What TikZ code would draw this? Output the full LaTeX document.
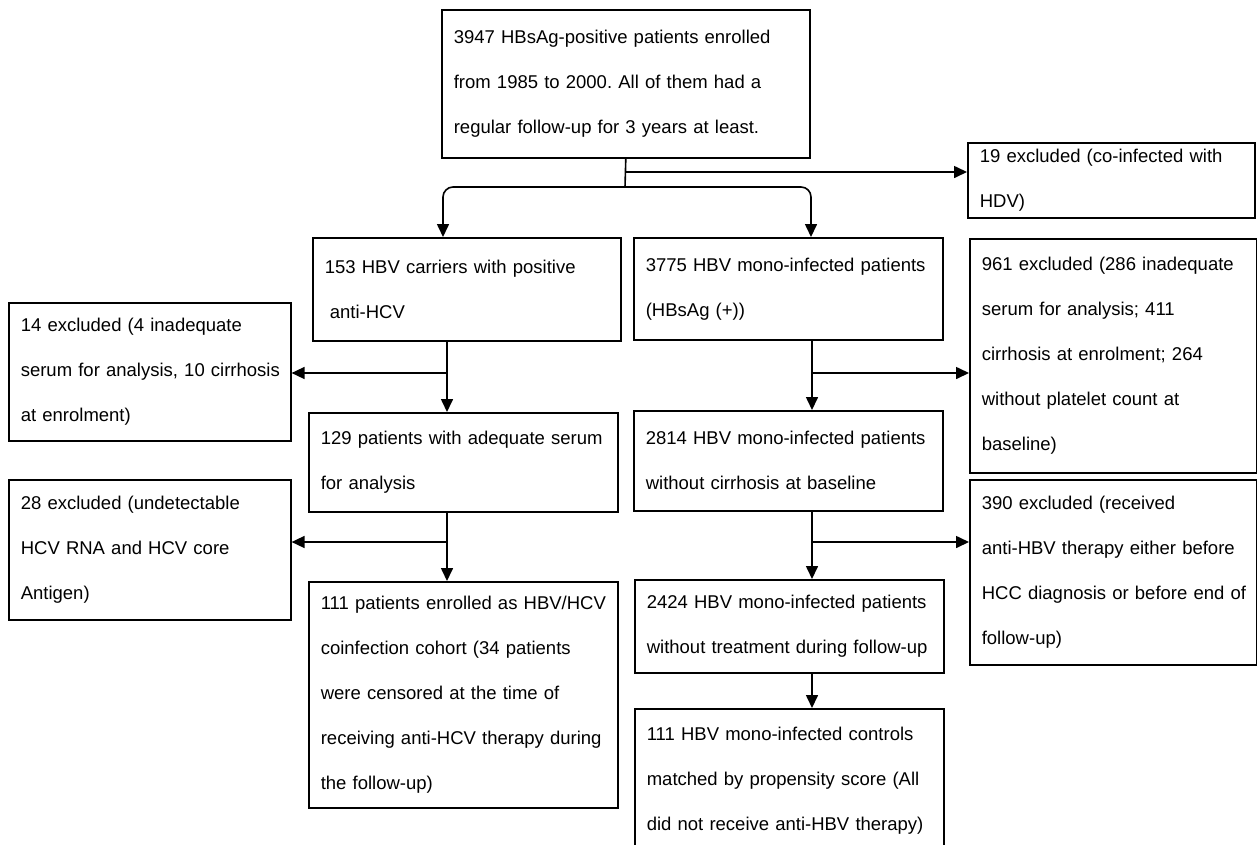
\documentclass[tikz,border=0pt]{standalone}
\usepackage{fontspec}
\setmainfont{Liberation Sans}
\usetikzlibrary{arrows.meta}
\frenchspacing
\begin{document}
\begin{tikzpicture}[x=1pt,y=-1pt,
  bx/.style 2 args={draw, line width=1.6pt, rectangle, anchor=north west,
    inner xsep=12pt, inner ysep=0pt, align=left, text width=#1, minimum height=#2,
    font=\fontsize{18.5pt}{45pt}\selectfont\frenchspacing},
  conn/.style={line width=1.6pt},
  arr/.style={line width=1.6pt, -{Triangle[length=13pt,width=12pt]}}]
\useasboundingbox (0,0) rectangle (1257,844);
\clip (0,0) rectangle (1257,844);
% boxes
\node[bx={344pt}{148pt}] (top) at (441,9) {\mbox{3947 HBsAg-positive patients enrolled}\\\mbox{from 1985 to 2000. All of them had a}\\\mbox{regular follow-up for 3 years at least.}};
\node[bx={263pt}{75pt}] (ex19) at (967,142) {\mbox{19 excluded (co-infected with}\\HDV)};
\node[bx={284pt}{103pt}] (c153) at (312,237) {\mbox{153 HBV carriers with positive}\\\hspace*{5pt}anti-HCV};
\node[bx={285pt}{102pt}] (m3775) at (633,237) {\mbox{3775 HBV mono-infected patients}\\(HBsAg (+))};
\node[bx={263pt}{234pt}] (ex961) at (969,238) {\mbox{961 excluded (286 inadequate}\\\mbox{serum for analysis; 411}\\\mbox{cirrhosis at enrolment; 264}\\\mbox{without platelet count at}\\baseline)};
\node[bx={258pt}{138pt}] (ex14) at (8,302) {\mbox{14 excluded (4 inadequate}\\\mbox{serum for analysis, 10 cirrhosis}\\\mbox{at enrolment)}};
\node[bx={285pt}{99pt}] (c129) at (308,412) {\mbox{129 patients with adequate serum}\\\mbox{for analysis}};
\node[bx={285pt}{100pt}] (m2814) at (633,410) {\mbox{2814 HBV mono-infected patients}\\\mbox{without cirrhosis at baseline}};
\node[bx={258pt}{140pt}] (ex28) at (8,479) {\mbox{28 excluded (undetectable}\\\mbox{HCV RNA and HCV core}\\Antigen)};
\node[bx={263pt}{185pt}] (ex390) at (969,479) {\mbox{390 excluded (received}\\\mbox{anti-HBV therapy either before}\\\mbox{HCC diagnosis or before end of}\\\mbox{follow-up)}};
\node[bx={285pt}{226pt}] (c111) at (308,581) {\mbox{111 patients enrolled as HBV/HCV}\\\mbox{coinfection cohort (34 patients}\\\mbox{were censored at the time of}\\\mbox{receiving anti-HCV therapy during}\\\mbox{the follow-up)}};
\node[bx={285pt}{93pt}] (m2424) at (634,579) {\mbox{2424 HBV mono-infected patients}\\\mbox{without treatment during follow-up}};
\node[bx={285pt}{144pt}] (m111) at (634,708) {\mbox{111 HBV mono-infected controls}\\\mbox{matched by propensity score (All}\\\mbox{did not receive anti-HBV therapy)}};
% helper coordinates
\coordinate (tj) at (625,187);
\coordinate (t19) at (625,172);
\coordinate (xL) at (443,0);
\coordinate (xR) at (811,0);
\coordinate (xl) at (447,0);
\coordinate (xr) at (812,0);
\coordinate (bl1) at (447,373);
\coordinate (br1) at (812,373);
\coordinate (bl2) at (447,542);
\coordinate (br2) at (812,542);
% connectors
\draw[conn] (top.south) -- (tj);
\draw[arr] (t19) -- (ex19.west |- t19);
\draw[arr, rounded corners=10pt] (tj) -| (c153.north -| xL);
\draw[arr, rounded corners=10pt] (tj) -| (m3775.north -| xR);
\draw[arr] (c153.south -| xl) -- (c129.north -| xl);
\draw[arr] (bl1) -- (ex14.east |- bl1);
\draw[arr] (m3775.south -| xr) -- (m2814.north -| xr);
\draw[arr] (br1) -- (ex961.west |- br1);
\draw[arr] (c129.south -| xl) -- (c111.north -| xl);
\draw[arr] (bl2) -- (ex28.east |- bl2);
\draw[arr] (m2814.south -| xr) -- (m2424.north -| xr);
\draw[arr] (br2) -- (ex390.west |- br2);
\draw[arr] (m2424.south -| xr) -- (m111.north -| xr);
\end{tikzpicture}
\end{document}
